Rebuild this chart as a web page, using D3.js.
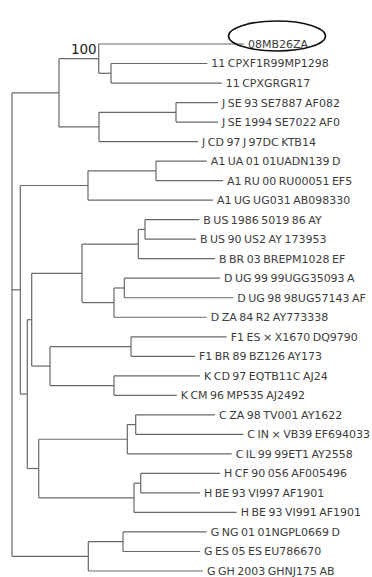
<!DOCTYPE html>
<html>
<head>
<meta charset="utf-8">
<script src="https://cdn.jsdelivr.net/npm/d3@7"></script>
<style>
  body { margin: 0; background: #fff; }
</style>
</head>
<body>
<div id="tree"></div>
<script>
// size of the picture
var width = 372, height = 577;

// internal nodes of the tree (branch length = substitutions per site)
var cladeIds    = ["root", "nA", "nA1", "nA1a", "nA2", "nJ", "nB", "nA1c", "nA1s", "nC", "nD", "nBD", "nBc", "nBs",
                   "nDc", "nDs", "nFK", "nF", "nK", "nCH", "nCc", "nCs", "nH", "nHs", "nG", "nGs"];
var cladeParent = [null, "root", "nA", "nA1", "nA", "nA2", "root", "nB", "nA1c", "nB", "nC", "nD", "nBD", "nBc",
                   "nBD", "nDc", "nD", "nFK", "nFK", "nC", "nCH", "nCc", "nCH", "nH", "root", "nG"];
var cladeLength = [0, 0.047, 0.0397, 0.0123, 0.040, 0.077, 0.0083, 0.0677, 0.068, 0.007, 0.0044, 0.0503, 0.0563, 0.0067,
                   0.032, 0.0103, 0.0183, 0.081, 0.064, 0.0114, 0.0886, 0.0084, 0.0953, 0.0067, 0.0763, 0.0347];

// tips, top to bottom
var taxa = [
  "08MB26ZA", "11 CPXF1R99MP1298", "11 CPXGRGR17",
  "J SE 93 SE7887 AF082", "J SE 1994 SE7022 AF0", "J CD 97 J 97DC KTB14",
  "A1 UA 01 01UADN139 D", "A1 RU 00 RU00051 EF5", "A1 UG UG031 AB098330",
  "B US 1986 5019 86 AY", "B US 90 US2 AY 173953", "B BR 03 BREPM1028 EF",
  "D UG 99 99UGG35093 A", "D UG 98 98UG57143 AF", "D ZA 84 R2 AY773338",
  "F1 ES \u00d7 X1670 DQ9790", "F1 BR 89 BZ126 AY173",
  "K CD 97 EQTB11C AJ24", "K CM 96 MP535 AJ2492",
  "C ZA 98 TV001 AY1622", "C IN \u00d7 VB39 EF694033", "C IL 99 99ET1 AY2558",
  "H CF 90 056 AF005496", "H BE 93 VI997 AF1901", "H BE 93 VI991 AF1901",
  "G NG 01 01NGPL0669 D", "G ES 05 ES EU786670", "G GH 2003 GHNJ175 AB"
];
var taxonParent = ["nA1", "nA1a", "nA1a", "nJ", "nJ", "nA2", "nA1s", "nA1s", "nA1c", "nBs", "nBs", "nBc",
                   "nDs", "nDs", "nDc", "nF", "nF", "nK", "nK", "nCs", "nCs", "nCc", "nHs", "nHs", "nH",
                   "nGs", "nGs", "nG"];
var taxonLength = [0.1453, 0.0963, 0.1107, 0.042, 0.042, 0.099, 0.0507, 0.067, 0.125, 0.0543, 0.051, 0.0767,
                   0.0957, 0.109, 0.0927, 0.0957, 0.064, 0.086, 0.0627, 0.0793, 0.1076, 0.1044, 0.0793, 0.0593,
                   0.1027, 0.0837, 0.077, 0.1147];

// bootstrap support shown on the tree
var supportClades = ["nA1"];
var supportValues = [100];

// the circled sequence
var highlighted = ["08MB26ZA"];

var svg = d3.select("#tree")
    .append("svg")
    .attr("width", width)
    .attr("height", height);

svg.append("rect").attr("width", width).attr("height", height).attr("fill", "#fff");

// build the table for stratify
var rows = [];
cladeIds.forEach(function (id, i) {
  rows.push({id: id, parent: cladeParent[i], len: cladeLength[i]});
});
taxa.forEach(function (id, i) {
  rows.push({id: id, parent: taxonParent[i], len: taxonLength[i]});
});

var root = d3.stratify()
    .id(function (d) { return d.id; })
    .parentId(function (d) { return d.parent; })(rows);

// keep the tips in the order of the list
root.eachAfter(function (n) {
  n.order = n.children ? d3.min(n.children, function (c) { return c.order; }) : taxa.indexOf(n.id);
});
root.sort(function (a, b) { return a.order - b.order; });

// cumulated distance from the root
root.eachBefore(function (n) {
  n.dist = (n.parent ? n.parent.dist : 0) + n.data.len;
});

var x = d3.scaleLinear().domain([0, 0.25]).range([12, 262]);
var y = d3.scalePoint().domain(taxa).range([44, 571]);

root.eachAfter(function (n) {
  n.px = x(n.dist);
  if (n.children) {
    n.py = (n.children[0].py + n.children[n.children.length - 1].py) / 2;
  } else {
    n.py = y(n.id);
  }
});

var lines = svg.append("g")
    .attr("stroke", "#686868")
    .attr("stroke-width", 1.2)
    .attr("fill", "none");

// horizontal branches
lines.selectAll(".hbranch")
    .data(root.descendants().filter(function (n) { return n.parent; }))
    .enter().append("line")
    .attr("class", "hbranch")
    .attr("x1", function (n) { return n.parent.px; })
    .attr("x2", function (n) { return n.px; })
    .attr("y1", function (n) { return n.py; })
    .attr("y2", function (n) { return n.py; });

// vertical connectors
lines.selectAll(".vbranch")
    .data(root.descendants().filter(function (n) { return n.children; }))
    .enter().append("line")
    .attr("class", "vbranch")
    .attr("x1", function (n) { return n.px; })
    .attr("x2", function (n) { return n.px; })
    .attr("y1", function (n) { return n.children[0].py; })
    .attr("y2", function (n) { return n.children[n.children.length - 1].py; });

// tip labels
svg.selectAll(".tip")
    .data(root.leaves())
    .enter().append("text")
    .attr("class", "tip")
    .attr("x", function (n) { return n.px + 4; })
    .attr("y", function (n) { return n.py; })
    .attr("dy", "0.36em")
    .style("font-family", "DejaVu Sans, sans-serif")
    .style("font-size", "11px")
    .style("word-spacing", "-1px")
    .style("fill", "#3c3c3c")
    .text(function (n) { return n.id; });

// bootstrap values
supportClades.forEach(function (id, i) {
  var n = root.find(function (d) { return d.id === id; });
  svg.append("text")
      .attr("x", n.px - 2)
      .attr("y", n.py - 5)
      .attr("text-anchor", "end")
      .style("font-family", "DejaVu Sans, sans-serif")
      .style("font-size", "13.5px")
      .style("fill", "#1a1a1a")
      .text(supportValues[i]);
});

// ellipse round the sequence of interest
highlighted.forEach(function (id) {
  var n = root.find(function (d) { return d.id === id; });
  svg.append("ellipse")
      .attr("cx", n.px + 33)
      .attr("cy", n.py - 8)
      .attr("rx", 48.5)
      .attr("ry", 15)
      .attr("fill", "none")
      .attr("stroke", "#111")
      .attr("stroke-width", 1.6);
});
</script>
</body>
</html>
